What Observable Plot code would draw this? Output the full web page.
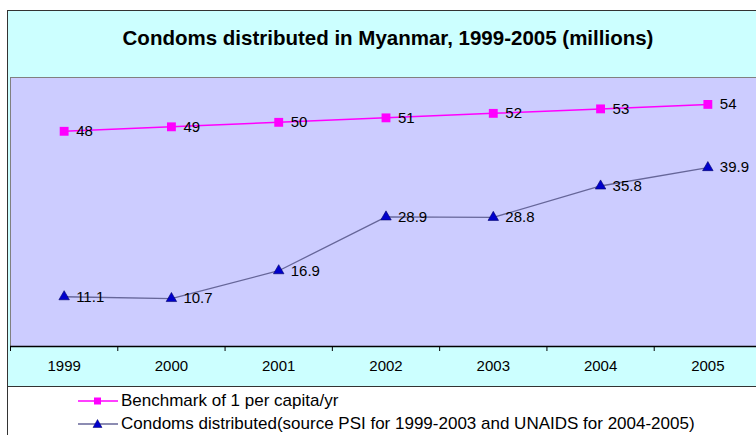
<!DOCTYPE html>
<html><head><meta charset="utf-8">
<script src="https://cdn.jsdelivr.net/npm/d3@7"></script>
<script src="https://cdn.jsdelivr.net/npm/@observablehq/plot@0.6"></script>
<style>
body{margin:0;background:#fff;font-family:Arial,"Liberation Sans",sans-serif;}
#wrap{position:relative;width:756px;height:435px;overflow:hidden;background:#fff;}
#outer{position:absolute;left:7px;top:10px;width:760px;height:440px;border-left:1px solid #333;border-top:1px solid #333;box-sizing:border-box;}
#cyan{position:absolute;left:8px;top:11px;width:760px;height:376px;background:#CCFFFF;border-bottom:1px solid #333;box-sizing:border-box;}
#title{position:absolute;left:7px;width:762px;top:25px;text-align:center;font-weight:bold;font-size:20.5px;line-height:26px;color:#000;}
#chart{position:absolute;left:0;top:0;}
#legend{position:absolute;left:78px;top:389px;font-size:17px;color:#000;}
#legend .row{display:flex;align-items:center;height:23px;white-space:nowrap;}
#legend svg{margin-right:3px;}
</style></head>
<body><div id="wrap"><div id="outer"></div><div id="cyan"></div><div id="title"></div><div id="chart"></div><div id="legend"></div></div>
<script>
const titleText = "Condoms distributed in Myanmar, 1999-2005 (millions)";
const years = [1999, 2000, 2001, 2002, 2003, 2004, 2005];
const benchmark = [48, 49, 50, 51, 52, 53, 54];
const distributed = [11.1, 10.7, 16.9, 28.9, 28.8, 35.8, 39.9];
const seriesNames = ["Benchmark of 1 per capita/yr", "Condoms distributed(source PSI for 1999-2003 and UNAIDS for 2004-2005)"];
const colors = {bench: "#FF00FF", distLine: "#666699", distMarker: "#0000CC"};

document.getElementById("title").textContent = titleText;

const bData = years.map((y, i) => ({year: y, value: benchmark[i]}));
const dData = years.map((y, i) => ({year: y, value: distributed[i]}));
const boundaries = d3.range(years.length + 1).map(i => years[0] - 0.5 + i);

const chart = Plot.plot({
  width: 756, height: 387,
  marginTop: 77, marginBottom: 41, marginLeft: 10, marginRight: 0,
  style: {background: "transparent", fontFamily: "Arial, 'Liberation Sans', sans-serif", overflow: "visible"},
  x: {domain: [years[0] - 0.5, years[years.length - 1] + 0.5], range: [10, 761], label: null},
  y: {domain: [0, 60], axis: null},
  marks: [
    Plot.frame({fill: "#CCCCFF", stroke: "#808080", strokeWidth: 1}),
    Plot.ruleY([0], {stroke: "#000", strokeWidth: 1.5}),
    Plot.axisX({ticks: boundaries, tickSize: 5, tickFormat: () => "", stroke: "#000", label: null}),
    Plot.axisX({ticks: years, tickSize: 0, tickPadding: 14, tickFormat: d => String(d), fontSize: 15, fill: "#000", label: null}),
    Plot.line(bData, {x: "year", y: "value", stroke: colors.bench, strokeWidth: 1.5}),
    Plot.dot(bData, {x: "year", y: "value", symbol: "square", r: 5, fill: colors.bench, stroke: "none"}),
    Plot.text(bData, {x: "year", y: "value", text: d => String(d.value), dx: 12, textAnchor: "start", fontSize: 15, fill: "#000"}),
    Plot.line(dData, {x: "year", y: "value", stroke: colors.distLine, strokeWidth: 1.3}),
    Plot.dot(dData, {x: "year", y: "value", symbol: "triangle", r: 3.9, fill: colors.distMarker, stroke: "#000066", strokeWidth: 0.6}),
    Plot.text(dData, {x: "year", y: "value", text: d => d.value.toFixed(1), dx: 12, textAnchor: "start", fontSize: 15, fill: "#000"})
  ]
});
document.getElementById("chart").appendChild(chart);

const legend = document.getElementById("legend");
const sw = [
  {stroke: colors.bench, marker: `<rect x="16" y="6.5" width="7" height="7" fill="${colors.bench}"/>`},
  {stroke: colors.distLine, marker: `<path d="M19.5,5.5 L24,13.5 L15,13.5 Z" fill="${colors.distMarker}" stroke="#000066" stroke-width="0.5"/>`}
];
seriesNames.forEach((name, i) => {
  const row = document.createElement("div");
  row.className = "row";
  row.innerHTML = `<svg width="40" height="20"><line x1="0" x2="40" y1="10" y2="10" stroke="${sw[i].stroke}" stroke-width="1.5"/>${sw[i].marker}</svg><span>${name}</span>`;
  legend.appendChild(row);
});
</script></body></html>
